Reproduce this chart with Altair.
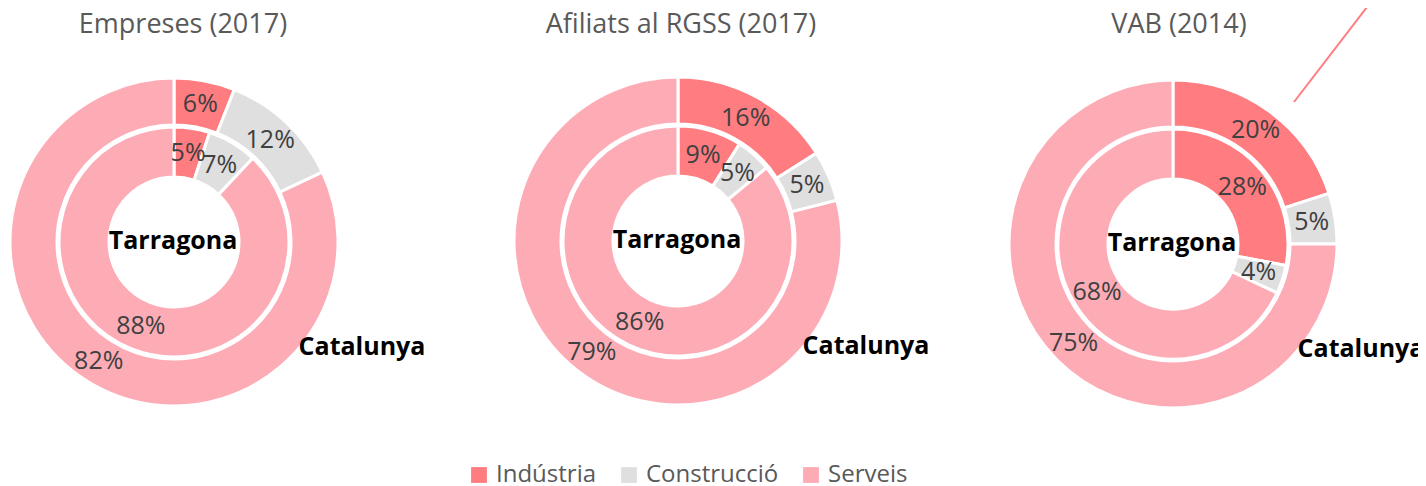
import altair as alt
import pandas as pd

# ---- data ----
charts = ["Empreses (2017)", "Afiliats al RGSS (2017)", "VAB (2014)"]
sectors = ["Indústria", "Construcció", "Serveis"]
catalunya = [[6, 12, 82], [16, 5, 79], [20, 5, 75]]
tarragona = [[5, 7, 88], [9, 5, 86], [28, 4, 68]]
colors = ["#FF7C80", "#DFDFDF", "#FDACB6"]

rows = []
for ci, ch in enumerate(charts):
    for si, s in enumerate(sectors):
        rows.append({"chart": ch, "ring": "Catalunya", "sector": s, "order": si,
                     "value": catalunya[ci][si], "label": f"{catalunya[ci][si]}%"})
        rows.append({"chart": ch, "ring": "Tarragona", "sector": s, "order": si,
                     "value": tarragona[ci][si], "label": f"{tarragona[ci][si]}%"})
df = pd.DataFrame(rows)

# ---- layout (plot-area pixels) ----
centers = [(166, 234), (670, 233), (1165, 236)]
title_x = [175, 673, 1171]
R_OUT = (117, 164)
R_IN = (65, 115)
FONT = "Open Sans"

color_scale = alt.Scale(domain=sectors, range=colors)

layers = []
for ci, ch in enumerate(charts):
    cx, cy = centers[ci]
    for ring, (r0, r1) in [("Catalunya", R_OUT), ("Tarragona", R_IN)]:
        base = alt.Chart(df).transform_filter(
            (alt.datum.chart == ch) & (alt.datum.ring == ring)
        ).encode(
            theta=alt.Theta("value:Q", stack=True),
            order=alt.Order("order:Q"),
            x=alt.value(cx),
            y=alt.value(cy),
        )
        arc = base.mark_arc(radius=r1, radius2=r0, stroke="white", strokeWidth=3).encode(
            color=alt.Color("sector:N", scale=color_scale,
                            legend=alt.Legend(title=None) if (ci == 0 and ring == "Catalunya") else None)
        )
        txt = base.mark_text(radius=(r0 + r1) / 2, font=FONT, fontSize=25,
                             color="#404040").encode(text="label:N")
        layers += [arc, txt]
    # titles and ring names
    lab = alt.Chart(pd.DataFrame({"t": [ch]})).mark_text(
        font=FONT, fontSize=27, color="#595959"
    ).encode(text="t:N", x=alt.value(title_x[ci]), y=alt.value(17))
    tarr = alt.Chart(pd.DataFrame({"t": ["Tarragona"]})).mark_text(
        font=FONT, fontSize=25, fontWeight="bold", color="#000000"
    ).encode(text="t:N", x=alt.value(cx - 1), y=alt.value(cy - 1))
    cat = alt.Chart(pd.DataFrame({"t": ["Catalunya"]})).mark_text(
        font=FONT, fontSize=25, fontWeight="bold", color="#000000"
    ).encode(text="t:N", x=alt.value(cx + 188), y=alt.value(cy + 105))
    layers += [lab, tarr, cat]

# leader line remnant (top right)
leader = alt.Chart(pd.DataFrame({"a": [0]})).mark_rule(color="#FF7C80", strokeWidth=2).encode(
    x=alt.value(1286), y=alt.value(94), x2=alt.value(1366), y2=alt.value(-10)
)
layers.append(leader)

chart = alt.layer(*layers).properties(
    width=1410, height=478, padding=0, autosize=alt.AutoSizeParams(type="none")
).configure_view(stroke=None).configure_legend(
    orient="none", legendX=459, legendY=455, direction="horizontal",
    symbolType="square", symbolSize=250, symbolStrokeWidth=0,
    labelFont=FONT, labelFontSize=24, labelColor="#595959",
    labelOffset=5, columnPadding=20, labelLimit=300
)

chart.save("out.html", embed_options={"renderer": "svg", "actions": False})
